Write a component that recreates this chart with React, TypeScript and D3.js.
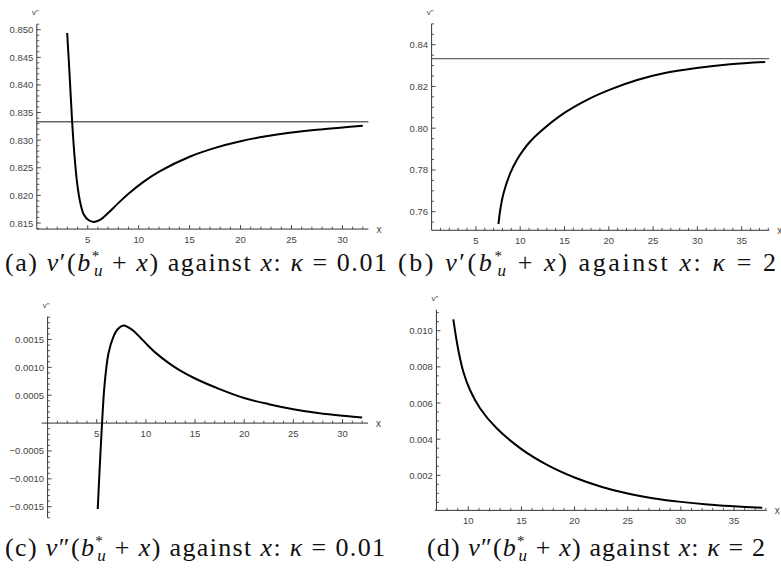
import React from "react";
import * as d3 from "d3";

// (a) v'(b*_u + x) against x, kappa = 0.01
const xA = [2.98, 3.2, 3.47, 3.7, 3.96, 4.22, 4.6, 5.1, 5.6, 6.25, 7.0, 8.0, 9.0, 10.5, 12.1, 15, 17.5, 20, 22.5, 25, 27.5, 30, 32];
const vA = [0.8494, 0.8425, 0.8333, 0.8272, 0.8222, 0.8191, 0.8166, 0.8155, 0.8152, 0.8156, 0.8168, 0.8186, 0.8203, 0.8225, 0.8244, 0.827, 0.8286, 0.8298, 0.8307, 0.8314, 0.8319, 0.8323, 0.8326];

// (b) v'(b*_u + x) against x, kappa = 2
const xB = [7.55, 7.74, 8.12, 8.87, 9.62, 10.37, 11.1, 12.26, 14.9, 17.5, 20.2, 23.2, 26.2, 29.9, 33.7, 37.65];
const vB = [0.7541, 0.7607, 0.7688, 0.7784, 0.7848, 0.7896, 0.7935, 0.7983, 0.8071, 0.8135, 0.8186, 0.8231, 0.8263, 0.8288, 0.8306, 0.8317];

// (c) v''(b*_u + x) against x, kappa = 0.01
const xC = [5.1, 5.34, 5.54, 5.78, 6.19, 6.7, 7.1, 7.7, 8.2, 8.7, 9.4, 10, 11, 12.3, 13.5, 15, 17.5, 20, 22.5, 25, 27.5, 30, 32];
const vC = [-0.00154, -0.00066, 0, 0.00066, 0.00125, 0.00155, 0.00168, 0.00175, 0.00172, 0.00166, 0.00154, 0.00143, 0.00126, 0.00108, 0.00094, 0.0008, 0.00061, 0.00045, 0.00034, 0.00025, 0.00018, 0.00013, 0.0001];

// (d) v''(b*_u + x) against x, kappa = 2
const xD = [8.59, 9.06, 9.53, 10.16, 11.1, 12.67, 15, 17.5, 20, 22.5, 25, 27.5, 30, 32.5, 35, 37.66];
const vD = [0.01063, 0.00893, 0.00773, 0.00672, 0.00571, 0.0046, 0.00345, 0.00255, 0.00188, 0.00137, 0.00099, 0.00072, 0.00053, 0.00039, 0.00029, 0.0002];

// limit drawn as a flat line in (a) and (b)
const asymptote = 5 / 6;

const xTicksA = [5, 10, 15, 20, 25, 30];
const yTicksA = [0.815, 0.82, 0.825, 0.83, 0.835, 0.84, 0.845, 0.85];
const xTicksB = [5, 10, 15, 20, 25, 30, 35];
const yTicksB = [0.76, 0.78, 0.8, 0.82, 0.84];
const xTicksC = [5, 10, 15, 20, 25, 30];
const yTicksC = [-0.0015, -0.001, -0.0005, 0.0005, 0.001, 0.0015];
const xTicksD = [10, 15, 20, 25, 30, 35];
const yTicksD = [0.002, 0.004, 0.006, 0.008, 0.01];

const panels = [
  {
    key: "a", xs: xA, ys: vA, hline: asymptote, xTicks: xTicksA, yTicks: yTicksA, yFmt: ".3f", yMinor: 0.001,
    xDomain: [0, 32], xRange: [36.8, 362.8], yDomain: [0.815, 0.85], yRange: [223, 29.7],
    xExt: [0, 32.55], yExt: [0.8139, 0.851], xAxisAt: 0.8139, yAxisAt: 0,
  },
  {
    key: "b", xs: xB, ys: vB, hline: asymptote, xTicks: xTicksB, yTicks: yTicksB, yFmt: ".2f", yMinor: 0.005,
    xDomain: [0, 35], xRange: [431.6, 741.7], yDomain: [0.76, 0.84], yRange: [211.7, 44.7],
    xExt: [0, 38.1], yExt: [0.7511, 0.85], xAxisAt: 0.7511, yAxisAt: 0,
  },
  {
    key: "c", xs: xC, ys: vC, hline: null, xTicks: xTicksC, yTicks: yTicksC, yFmt: ".4f", yMinor: 0.0001,
    xDomain: [0, 30], xRange: [47.6, 342.5], yDomain: [-0.0015, 0.0015], yRange: [506.7, 339.5],
    xExt: [-0.6, 32.6], yExt: [-0.0017, 0.00191], xAxisAt: 0, yAxisAt: 0,
  },
  {
    key: "d", xs: xD, ys: vD, hline: null, xTicks: xTicksD, yTicks: yTicksD, yFmt: ".3f", yMinor: 0.0005,
    xDomain: [10, 35], xRange: [468.3, 734], yDomain: [0.002, 0.01], yRange: [475.3, 330.7],
    xExt: [6.85, 38.07], yExt: [0.00006, 0.01116], xAxisAt: 0.00006, yAxisAt: 7.0,
  },
];

const captions = [
  { letter: "a", prime: "\u2032", kappa: "0.01", x: 5, y: 271, w: 382 },
  { letter: "b", prime: "\u2032", kappa: "2", x: 398, y: 271, w: 378 },
  { letter: "c", prime: "\u2033", kappa: "0.01", x: 5, y: 556, w: 380 },
  { letter: "d", prime: "\u2033", kappa: "2", x: 427, y: 556, w: 338 },
];

const tickFont = "'Liberation Sans', Arial, sans-serif";
const serifFont = "'Liberation Serif', 'DejaVu Serif', 'Times New Roman', serif";
const axisColor = "#333";

const minorTicks = (lo: number, hi: number, step: number, skip: number[]) => {
  const out: number[] = [];
  for (let i = Math.ceil(lo / step - 1e-6); i * step <= hi + 1e-9; i++) {
    const v = i * step;
    if (skip.some((s) => Math.abs(s - v) < step / 10)) continue;
    out.push(v);
  }
  return out;
};

const Panel = ({ p }: { p: any }) => {
  const x = d3.scaleLinear().domain(p.xDomain).range(p.xRange);
  const y = d3.scaleLinear().domain(p.yDomain).range(p.yRange);
  const fmt = d3.format(p.yFmt);
  const line = d3
    .line<number>()
    .x((d) => x(d))
    .y((_, i) => y(p.ys[i]))
    .curve(d3.curveCatmullRom.alpha(0.5));

  const ax = x(p.yAxisAt);
  const ay = y(p.xAxisAt);
  const xMinor = minorTicks(p.xExt[0], p.xExt[1], 1, [...p.xTicks, p.yAxisAt]);
  const yMinor = minorTicks(p.yExt[0], p.yExt[1], p.yMinor, [...p.yTicks, p.xAxisAt]);

  return (
    <g>
      {/* axes */}
      <line x1={x(p.xExt[0])} x2={x(p.xExt[1])} y1={ay} y2={ay} stroke={axisColor} strokeWidth={1} />
      <line x1={ax} x2={ax} y1={y(p.yExt[0])} y2={y(p.yExt[1])} stroke={axisColor} strokeWidth={1} />

      {p.xTicks.map((t: number) => (
        <g key={"xt" + t}>
          <line x1={x(t)} x2={x(t)} y1={ay} y2={ay - 4} stroke={axisColor} strokeWidth={0.9} />
          <text x={x(t)} y={ay + 10.5} textAnchor="middle" dominantBaseline="central"
            fontFamily={tickFont} fontSize={9.5} fill="#444">{t}</text>
        </g>
      ))}
      {xMinor.map((t) => (
        <line key={"xm" + t} x1={x(t)} x2={x(t)} y1={ay} y2={ay - 2.5} stroke={axisColor} strokeWidth={0.8} />
      ))}

      {p.yTicks.map((t: number) => (
        <g key={"yt" + t}>
          <line x1={ax} x2={ax + 4} y1={y(t)} y2={y(t)} stroke={axisColor} strokeWidth={0.9} />
          <text x={ax - 3.5} y={y(t)} textAnchor="end" dominantBaseline="central"
            fontFamily={tickFont} fontSize={9.5} fill="#444">{fmt(t)}</text>
        </g>
      ))}
      {yMinor.map((t) => (
        <line key={"ym" + t} x1={ax} x2={ax + 2.5} y1={y(t)} y2={y(t)} stroke={axisColor} strokeWidth={0.8} />
      ))}

      {/* axis labels */}
      <text x={ax - 1.5} y={y(p.yExt[1]) - 9} textAnchor="middle" fontFamily={tickFont} fontSize={8} fill="#444">
        v"
      </text>
      <text x={x(p.xExt[1]) + 8} y={ay} dominantBaseline="central" fontFamily={tickFont} fontSize={10} fill="#444">
        x
      </text>

      {p.hline !== null && (
        <line x1={ax} x2={x(p.xExt[1])} y1={y(p.hline)} y2={y(p.hline)} stroke="#666" strokeWidth={1.3} />
      )}

      <path d={line(p.xs) || ""} fill="none" stroke="#000" strokeWidth={2} />
    </g>
  );
};

const Caption = ({ c }: { c: any }) => (
  <text x={c.x} y={c.y} fontFamily={serifFont} fontSize={26} fill="#111"
    textLength={c.w} lengthAdjust="spacing">
    ({c.letter}) <tspan fontStyle="italic">v</tspan>{c.prime}(<tspan fontStyle="italic">b</tspan>
    <tspan fontSize={15} dy={-10}>*</tspan>
    <tspan fontSize={17} fontStyle="italic" dx={-7} dy={15}>u</tspan>
    <tspan dy={-5}> + </tspan><tspan fontStyle="italic">x</tspan>) against <tspan fontStyle="italic">x</tspan>:{" "}
    <tspan fontStyle="italic">κ</tspan> = {c.kappa}
  </text>
);

const App = () => (
  <div style={{ position: "absolute", left: 0, top: 0 }}>
    <svg width={781} height={572} style={{ display: "block", background: "#fff" }}>
      {panels.map((p) => (
        <Panel key={p.key} p={p} />
      ))}
      {captions.map((c) => (
        <Caption key={c.letter} c={c} />
      ))}
    </svg>
  </div>
);

export default App;
